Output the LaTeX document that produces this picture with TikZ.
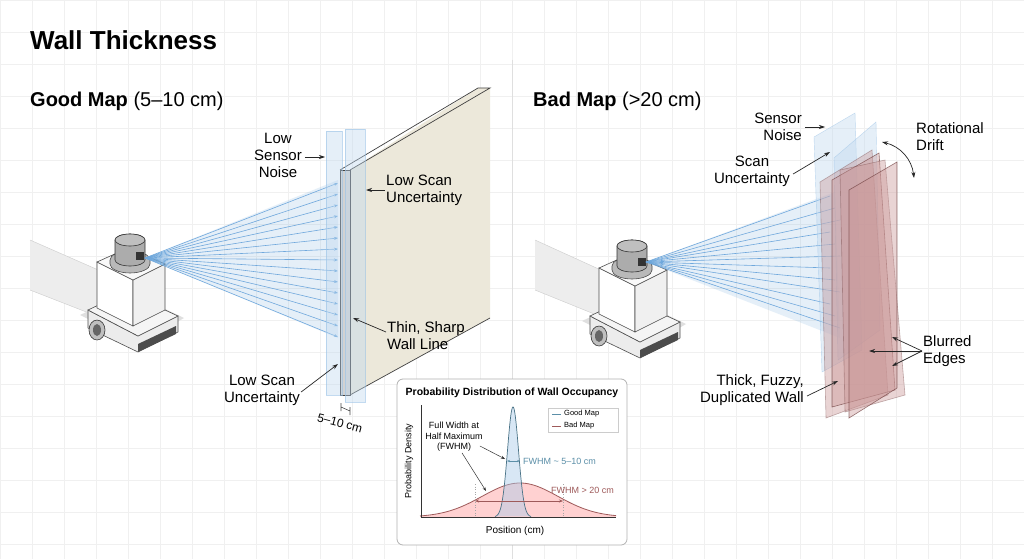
\documentclass[tikz,border=0pt]{standalone}
\usepackage{fontspec}
\setmainfont{Liberation Sans}
\usetikzlibrary{arrows.meta,calc}
\definecolor{ray}{HTML}{6FA8DC}
\definecolor{gl}{HTML}{5B8FA8}
\definecolor{bl}{HTML}{9E5A5A}
\definecolor{rp}{HTML}{C99595}
\definecolor{beige}{HTML}{ECE8DA}
\tikzset{
 lbl/.style={font=\fontsize{15}{17}\selectfont,align=center,inner sep=1pt},
 arr/.style={-{Stealth[length=6pt,width=4pt]},line width=0.7pt,black!85},
 rayl/.style={ray,line width=0.6pt},
 pane/.style={fill=ray!45,fill opacity=.4,draw=ray!70,draw opacity=.6,line width=.4pt},
 rpane/.style={fill=rp,fill opacity=.4,draw=bl!70!black,draw opacity=.7,line width=.6pt},
 small/.style={font=\fontsize{9}{10.5}\selectfont,align=center,inner sep=1pt},
 robot/.pic={
  \fill[gray!25] (-50,75) -- (0,52) -- (54,78) -- (10,104) -- cycle;
  \draw[black!70,fill=gray!15,line width=.6pt] (-42,70) -- (-42,88) -- (8,112) -- (48,92) -- (48,76) -- (8,96) -- cycle;
  \fill[black!70] (8,104) -- (46,86) -- (46,94) -- (8,112) -- cycle;
  \draw[black!70,fill=gray!8,line width=.6pt] (-42,70) -- (-4,52) -- (48,76) -- (8,96) -- cycle;
  \draw[black!80,fill=gray!50,line width=.6pt] (-33,90) circle[x radius=8,y radius=10];
  \fill[black!60] (-33,90) circle[x radius=4,y radius=6];
  \draw[black!70,fill=white,line width=.6pt] (-33,22) -- (-33,68) -- (3,86) -- (3,40) -- cycle;
  \draw[black!70,fill=gray!12,line width=.6pt] (3,40) -- (3,86) -- (35,70) -- (35,24) -- cycle;
  \draw[black!70,fill=gray!5,line width=.6pt] (-33,22) -- (-2,8) -- (35,24) -- (3,40) -- cycle;
  \draw[black!70,fill=gray!55,line width=.6pt] (-20,24) arc[start angle=180,end angle=360,x radius=20,y radius=-9] -- (20,20) arc[start angle=0,end angle=180,x radius=20,y radius=-9] -- cycle;
  \draw[black!80,fill=gray!65,line width=.6pt] (-15,0) -- (-15,20) arc[start angle=180,end angle=360,x radius=15,y radius=-6] -- (15,0) arc[start angle=0,end angle=180,x radius=15,y radius=-6] -- cycle;
  \draw[black!80,fill=gray!50,line width=.6pt] (0,0) ellipse[x radius=15,y radius=6];
  \fill[black!80] (6,12) rectangle (14,20);
 }
}
\begin{document}
\begin{tikzpicture}[x=1pt,y=-1pt]
\useasboundingbox (0,0) rectangle (1024,559);
\fill[white] (0,0) rectangle (1024,559);
\foreach \i in {0,32,...,1024} \draw[gray!12,line width=.4pt] (\i,0) -- (\i,559);
\foreach \j in {0,32,...,559} \draw[gray!12,line width=.4pt] (0,\j) -- (1024,\j);
\draw[gray!25,line width=.6pt] (512,60) -- (512,559);
\node[anchor=west,font=\fontsize{26}{30}\selectfont\bfseries,inner sep=0] (title) at (30,40) {Wall Thickness};
\node[anchor=west,font=\fontsize{20}{24}\selectfont,inner sep=0] (hgood) at (30,101) {\textbf{Good Map} (5–10 cm)};
\node[anchor=west,font=\fontsize{20}{24}\selectfont,inner sep=0] (hbad) at (533,101) {\textbf{Bad Map} (>20 cm)};

% ---------- LEFT ----------
\fill[gray!14] (30,240) -- (112,276) -- (112,322) -- (30,290) -- cycle;
\draw[gray!40,line width=.4pt] (30,240) -- (112,276) (30,290) -- (112,322);
\pic at (130,240) {robot};
\coordinate (gsrc) at (145,258);
\fill[ray,opacity=.18] (gsrc) -- (338,180) -- (338,338) -- cycle;
\foreach \k in {0,...,14}{
  \coordinate (ge\k) at (338,{183+\k*11});
  \draw[rayl,-{Stealth[length=4pt,width=3pt]}] (gsrc) -- (ge\k);
}
\fill[beige] (350,170) -- (478,88) -- (490,88) -- (490,318) -- (350,395) -- cycle;
\draw[black!75,line width=.7pt] (340,170) -- (478,88) -- (490,88) -- (350,170);
\draw[black!75,line width=.7pt] (490,318) -- (350,395);
\draw[black!75,line width=.7pt,fill=gray!35] (340,170) rectangle (350,395);
\draw[pane] (326,131) -- (342,131) -- (342,395) -- (326,395) -- cycle;
\draw[pane] (345,129) -- (365,129) -- (365,402) -- (345,402) -- cycle;
\node[lbl] (gsn) at (278,155) {Low\\Sensor\\Noise};
\coordinate (gsnE) at (325,157);
\draw[arr] ($(gsn.east)+(2,2)$) -- (gsnE);
\node[lbl,anchor=west,align=left] (gsu1) at (385,190) {Low Scan\\Uncertainty};
\coordinate (gsu1E) at (366,190);
\draw[arr] (gsu1.west) -- (gsu1E);
\node[lbl,anchor=west,align=left] (gthin) at (386,336) {Thin, Sharp\\Wall Line};
\coordinate (gthinE) at (353,318);
\draw[arr] ($(gthin.west)+(0,-4)$) -- (gthinE);
\node[lbl] (gsu2) at (262,390) {Low Scan\\Uncertainty};
\coordinate (gsu2E) at (338,364);
\draw[arr] ($(gsu2.east)+(0,2)$) -- (gsu2E);
\coordinate (d1) at (341,403); \coordinate (d2) at (350,407);
\draw[black!70,line width=.6pt] (d1) -- +(0,8) (d2) -- +(0,8) ($(d1)+(0,4)$) -- ($(d2)+(0,4)$);
\node[font=\fontsize{12}{13}\selectfont,rotate=-15] (gdim) at (340,423) {5–10 cm};

% ---------- RIGHT ----------
\fill[gray!14] (535,240) -- (614,276) -- (614,322) -- (535,290) -- cycle;
\draw[gray!40,line width=.4pt] (535,240) -- (614,276) (535,290) -- (614,322);
\pic at (632,246) {robot};
\coordinate (bsrc) at (646,262);
\fill[ray,opacity=.18] (bsrc) -- (835,192) -- (840,338) -- cycle;
\foreach \k in {0,...,11}{
  \coordinate (be\k) at ({830+mod(\k,3)*5},{196+\k*12});
  \draw[rayl] (bsrc) -- (be\k);
}
\draw[pane] (814,137) -- (855,113) -- (862,350) -- (822,372) -- cycle;
\draw[pane] (834,158) -- (876,122) -- (880,330) -- (838,360) -- cycle;
\draw[rpane,draw opacity=.4] (820,182) -- (872,150) -- (888,395) -- (826,418) -- cycle;
\draw[rpane] (832,180) -- (879,153) -- (895,390) -- (832,407) -- cycle;
\draw[rpane,draw opacity=.4] (840,170) -- (885,160) -- (905,395) -- (845,412) -- cycle;
\draw[rpane] (849,190) -- (897,162) -- (897,388) -- (849,418) -- cycle;
\node[lbl,align=right,anchor=east] (bsn) at (803,127) {Sensor\\Noise};
\coordinate (bsnE) at (825,127);
\draw[arr] ($(bsn.east)+(2,0)$) -- (bsnE);
\node[lbl] (bsu) at (752,171) {Scan\\Uncertainty};
\coordinate (bsuE) at (830,152);
\draw[arr] ($(bsu.east)+(2,3)$) -- (bsuE);
\node[lbl,anchor=west,align=left] (brot) at (915,137) {Rotational\\Drift};
\coordinate (rA) at (882,142); \coordinate (rB) at (914,178);
\draw[arr,{Stealth[length=6pt,width=4pt]}-{Stealth[length=6pt,width=4pt]}] (rA) to[bend left=35] (rB);
\node[lbl,anchor=west,align=left] (bbl) at (922,351) {Blurred\\Edges};
\coordinate (bbA) at (869,351); \coordinate (bbB) at (892,337); \coordinate (bbC) at (892,366);
\draw[arr] (bbl.west) -- (bbA);
\draw[arr] (bbl.west) -- (bbB);
\draw[arr] (bbl.west) -- (bbC);
\node[lbl,align=right,anchor=east] (bth) at (805,390) {Thick, Fuzzy,\\Duplicated Wall};
\coordinate (bthE) at (838,381);
\draw[arr] ($(bth.east)+(2,6)$) -- (bthE);

% ---------- INSET ----------
\node[draw=gray!60,line width=.8pt,fill=white,rounded corners=6pt,minimum width=230pt,minimum height=166pt,inner sep=0] (inset) at (512,462) {};
\node[font=\fontsize{10.5}{12}\selectfont\bfseries] (ititle) at (512,393) {Probability Distribution of Wall Occupancy};
\coordinate (ax0) at (421,517); \coordinate (axy) at (421,405); \coordinate (axx) at (616,517);
\fill[red!40,opacity=.45] plot[domain=420:616,samples=120] (\x,{517-34*exp(-((\x-520)/38)^2/2)}) -- (616,517) -- (420,517) -- cycle;
\draw[bl,line width=.8pt] plot[domain=420:616,samples=120] (\x,{517-34*exp(-((\x-520)/38)^2/2)});
\fill[ray!60,opacity=.45] plot[domain=495:531,samples=80] (\x,{517-110*exp(-((\x-513)/5.5)^2/2)}) -- cycle;
\draw[gl!80!black,line width=.7pt] plot[domain=495:531,samples=80] (\x,{517-110*exp(-((\x-513)/5.5)^2/2)});
\draw[black!80,line width=.7pt] (axy) -- (ax0) -- (axx);
\node[small,rotate=90] (iy) at (409,461) {Probability Density};
\node[font=\fontsize{10}{11}\selectfont] (ix) at (515,531) {Position (cm)};
\draw[gray!70,dotted,line width=.6pt] (475,484) -- (475,517) (563,484) -- (563,517);
\coordinate (fb1) at (475,501); \coordinate (fb2) at (563,501);
\draw[bl,line width=.6pt,{Stealth[length=4pt]}-{Stealth[length=4pt]}] (fb1) -- (fb2);
\coordinate (fg1) at (507,461); \coordinate (fg2) at (520,461);
\draw[gl,line width=.6pt,{Stealth[length=3pt]}-{Stealth[length=3pt]}] (fg1) -- (fg2);
\node[small,anchor=west,text=gl] (ifg) at (522,461) {FWHM \textasciitilde{} 5–10 cm};
\node[small,anchor=west,text=bl] (ifb) at (550,490) {FWHM > 20 cm};
\node[small] (ifw) at (454,437) {Full Width at\\Half Maximum\\(FWHM)};
\coordinate (fwA) at (505,459); \coordinate (fwB) at (486,491);
\draw[black!80,line width=.5pt,-{Stealth[length=4pt]}] ($(ifw.east)+(-4,9)$) -- (fwA);
\draw[black!80,line width=.5pt,-{Stealth[length=4pt]}] ($(ifw.south)+(8,0)$) -- (fwB);
\node[draw=gray!40,fill=white,minimum width=70pt,minimum height=24pt,inner sep=0] (leg) at (583,420) {};
\draw[gl,line width=.7pt] (552,414) -- (561,414); \node[font=\fontsize{7.5}{8}\selectfont,anchor=west,inner sep=1pt] (lg1) at (563,414) {Good Map};
\draw[bl,line width=.7pt] (552,426) -- (561,426); \node[font=\fontsize{7.5}{8}\selectfont,anchor=west,inner sep=1pt] (lg2) at (563,426) {Bad Map};
\end{tikzpicture}
\end{document}
